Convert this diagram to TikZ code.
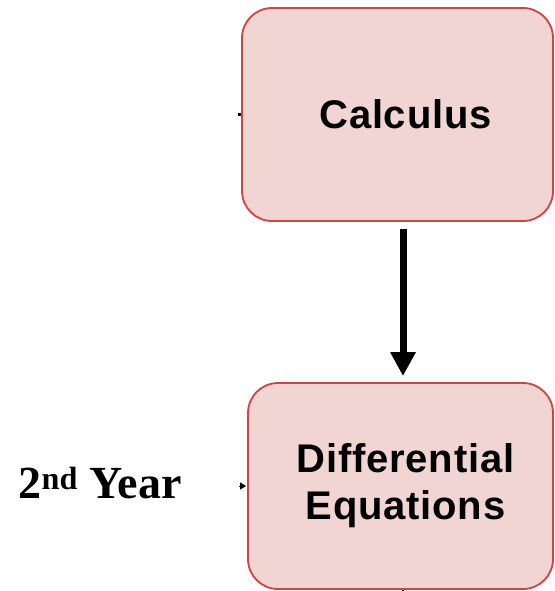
\documentclass[tikz,border=0pt]{standalone}
\usepackage{fontspec}
\setmainfont{Liberation Serif}
\setsansfont[LetterSpace=2]{Liberation Sans}
\usetikzlibrary{arrows.meta}
\definecolor{boxfill}{RGB}{240,213,211}
\definecolor{boxline}{RGB}{212,66,66}

\begin{document}
\begin{tikzpicture}[x=1pt,y=-1pt,>=Triangle,
  course/.style={draw=boxline, fill=boxfill, line width=1.8pt, rounded corners=30pt,
    align=center, font=\sffamily\bfseries\fontsize{40}{47}\selectfont, inner sep=0pt},
  flow/.style={line width=7pt, -{Triangle[width=24pt,length=24pt]}}]
\useasboundingbox (0,0) rectangle (554,591);
% Courses
\node[course, minimum width=311pt, minimum height=213pt] (calculus) at (397.5,114.5) {\hspace*{16pt}Calculus};
\node[course, minimum width=305pt, minimum height=206pt] (diffeq) at (400.5,486) {\hspace*{10pt}Differential\\\hspace*{10pt}Equations};
% Year label
\node[font=\bfseries\fontsize{46}{50}\selectfont] (year2) at (100,483) {2\textsuperscript{nd} Year};
% Prerequisite arrow
\draw[flow] ([xshift=5.5pt,yshift=-7pt]calculus.south) -- ([xshift=2.5pt,yshift=6pt]diffeq.north);
% Cut-off connectors
\draw[line width=2.5pt] (calculus.west) -- ++(-3,0);
\draw[line width=1pt, -{Triangle[width=7pt,length=6pt]}] ([xshift=-8pt]diffeq.west) -- ([xshift=-1pt]diffeq.west);
\draw[line width=2.5pt] ([xshift=2.5pt]diffeq.south) -- ++(0,4);
\end{tikzpicture}
\end{document}
